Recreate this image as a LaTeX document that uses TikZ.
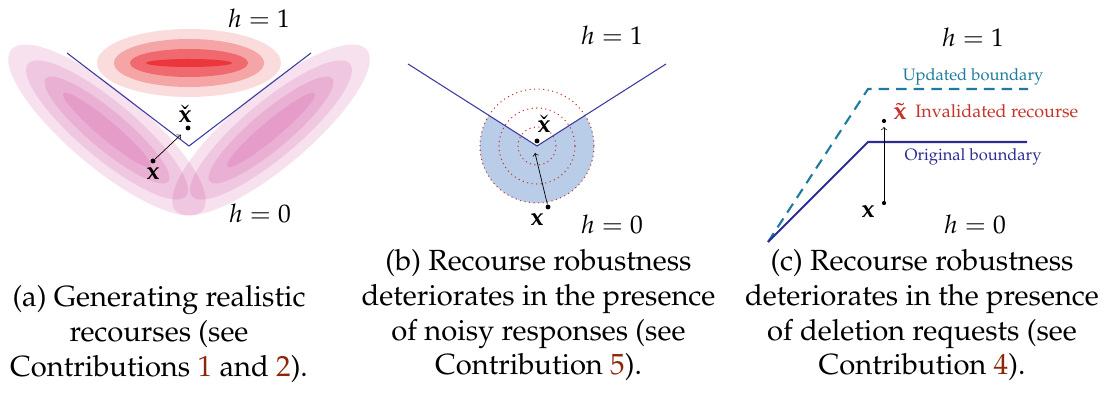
\documentclass[tikz,border=0pt]{standalone}
\usepackage[T1]{fontenc}
\usepackage{mathpazo}
\definecolor{bndblue}{RGB}{58,58,158}
\definecolor{orgblue}{RGB}{44,44,150}
\definecolor{updblue}{RGB}{30,122,160}
\definecolor{invred}{RGB}{196,52,42}
\definecolor{refbrown}{RGB}{140,40,10}
\definecolor{diskblue}{RGB}{185,204,232}
\definecolor{densmag}{RGB}{194,24,127}
\definecolor{redA}{RGB}{250,220,220}
\definecolor{redB}{RGB}{245,165,165}
\definecolor{redC}{RGB}{240,105,110}
\definecolor{redD}{RGB}{235,55,60}
\begin{document}
\begin{tikzpicture}[
  bnd/.style={bndblue, line width=0.6pt},
  pt/.style={circle, fill, inner sep=0pt, minimum size=2.8pt},
  lbl/.style={inner sep=0pt, font=\fontsize{14.5}{17}\selectfont},
  smalltxt/.style={inner sep=0pt, font=\fontsize{9.4}{11}\selectfont},
  capnode/.style={align=center, anchor=north, inner sep=0pt, font=\fontsize{16.6}{19.8}\selectfont},
  dens/.style={fill=densmag, fill opacity=0.13},
  >=to,
]
\useasboundingbox (0,0) rectangle (22.14,8.06);

% (a) generating realistic recourses
\foreach \rx/\ry/\c in {1.84/0.68/redA,1.50/0.48/redB,1.18/0.28/redC,0.86/0.08/redD}
  \fill[\c] (3.78,6.80) ellipse (\rx cm and \ry cm);
\foreach \a/\b in {2.50/0.76,2.06/0.56,1.60/0.38,1.14/0.18} {
  \fill[dens, rotate around={-40:(2.14,5.46)}] (2.14,5.46) ellipse (\a cm and \b cm);
  \fill[dens, rotate around={40:(5.42,5.46)}] (5.42,5.46) ellipse (\a cm and \b cm);
}
\coordinate (La) at (1.34,7.00);
\coordinate (Va) at (3.78,5.14);
\coordinate (Ra) at (6.22,7.00);
\draw[bnd] (La) -- (Va) -- (Ra);
\node[pt] (xa) at (3.06,4.84) {};
\node[pt] (xca) at (3.76,5.50) {};
\draw[->, shorten >=4pt] (xa) -- (xca);
\node[lbl] (xalbl) at (3.06,4.58) {$\mathbf{x}$};
\node[lbl] (xcalbl) at (3.70,5.78) {$\check{\mathbf{x}}$};
\node[lbl] (h1a) at (5.18,7.70) {$h=1$};
\node[lbl] (h0a) at (5.20,3.80) {$h=0$};

% (b) noisy responses
\coordinate (Lb) at (8.16,6.78);
\coordinate (Vb) at (10.74,5.14);
\coordinate (Rb) at (13.32,6.78);
\begin{scope}
  \clip (Lb) -- (Vb) -- (Rb) -- (13.32,3.0) -- (8.16,3.0) -- cycle;
  \fill[diskblue] (Vb) circle (1.14);
\end{scope}
\foreach \r in {0.38,0.76,1.14}
  \draw[invred, dotted, line width=0.6pt] (Vb) circle (\r);
\draw[bnd] (Lb) -- (Vb) -- (Rb);
\node[pt] (xb) at (10.96,3.92) {};
\node[pt] (xcb) at (10.74,5.24) {};
\coordinate (tipb) at (10.70,5.00);
\draw[->] (xb) -- (tipb);
\node[lbl] (xblbl) at (10.74,3.66) {$\mathbf{x}$};
\node[lbl] (xcblbl) at (10.88,5.58) {$\check{\mathbf{x}}$};
\node[lbl] (h1b) at (12.24,7.36) {$h=1$};
\node[lbl] (h0b) at (12.24,3.58) {$h=0$};

% (c) deletion requests
\coordinate (Sc) at (15.36,3.22);
\coordinate (Ku) at (17.36,6.28);
\coordinate (Eu) at (20.56,6.28);
\coordinate (Ko) at (17.36,5.22);
\coordinate (Eo) at (20.54,5.22);
\draw[updblue, line width=1.2pt, dash pattern=on 6pt off 4pt] (Sc) -- (Ku) -- (Eu);
\draw[orgblue, line width=1.2pt] (Sc) -- (Ko) -- (Eo);
\node[smalltxt, updblue] (updlbl) at (19.46,6.52) {Updated boundary};
\node[smalltxt, orgblue] (orglbl) at (19.46,4.92) {Original boundary};
\node[pt, minimum size=2.4pt] (xc) at (17.68,4.00) {};
\node[pt, minimum size=2.4pt] (xtc) at (17.68,5.64) {};
\coordinate (tipc) at (17.68,5.52);
\draw[->] (xc) -- (tipc);
\node[lbl] (xclbl) at (17.36,3.82) {$\mathbf{x}$};
\node[lbl, invred] (xtclbl) at (18.00,5.84) {$\tilde{\mathbf{x}}$};
\node[smalltxt, invred, font=\fontsize{10.2}{12}\selectfont, anchor=west] (invlbl) at (18.30,5.84) {Invalidated recourse};
\node[lbl] (h1c) at (19.46,7.32) {$h=1$};
\node[lbl] (h0c) at (19.50,3.58) {$h=0$};

% captions
\node[capnode] (capa) at (3.18,2.36) {(a) Generating realistic\\recourses (see\\Contributions \textcolor{refbrown}{1} and \textcolor{refbrown}{2}).};
\node[capnode] (capb) at (10.77,3.08) {(b) Recourse robustness\\deteriorates in the presence\\of noisy responses (see\\Contribution \textcolor{refbrown}{5}).};
\node[capnode] (capc) at (18.44,3.08) {(c) Recourse robustness\\deteriorates in the presence\\of deletion requests (see\\Contribution \textcolor{refbrown}{4}).};
\end{tikzpicture}
\end{document}
